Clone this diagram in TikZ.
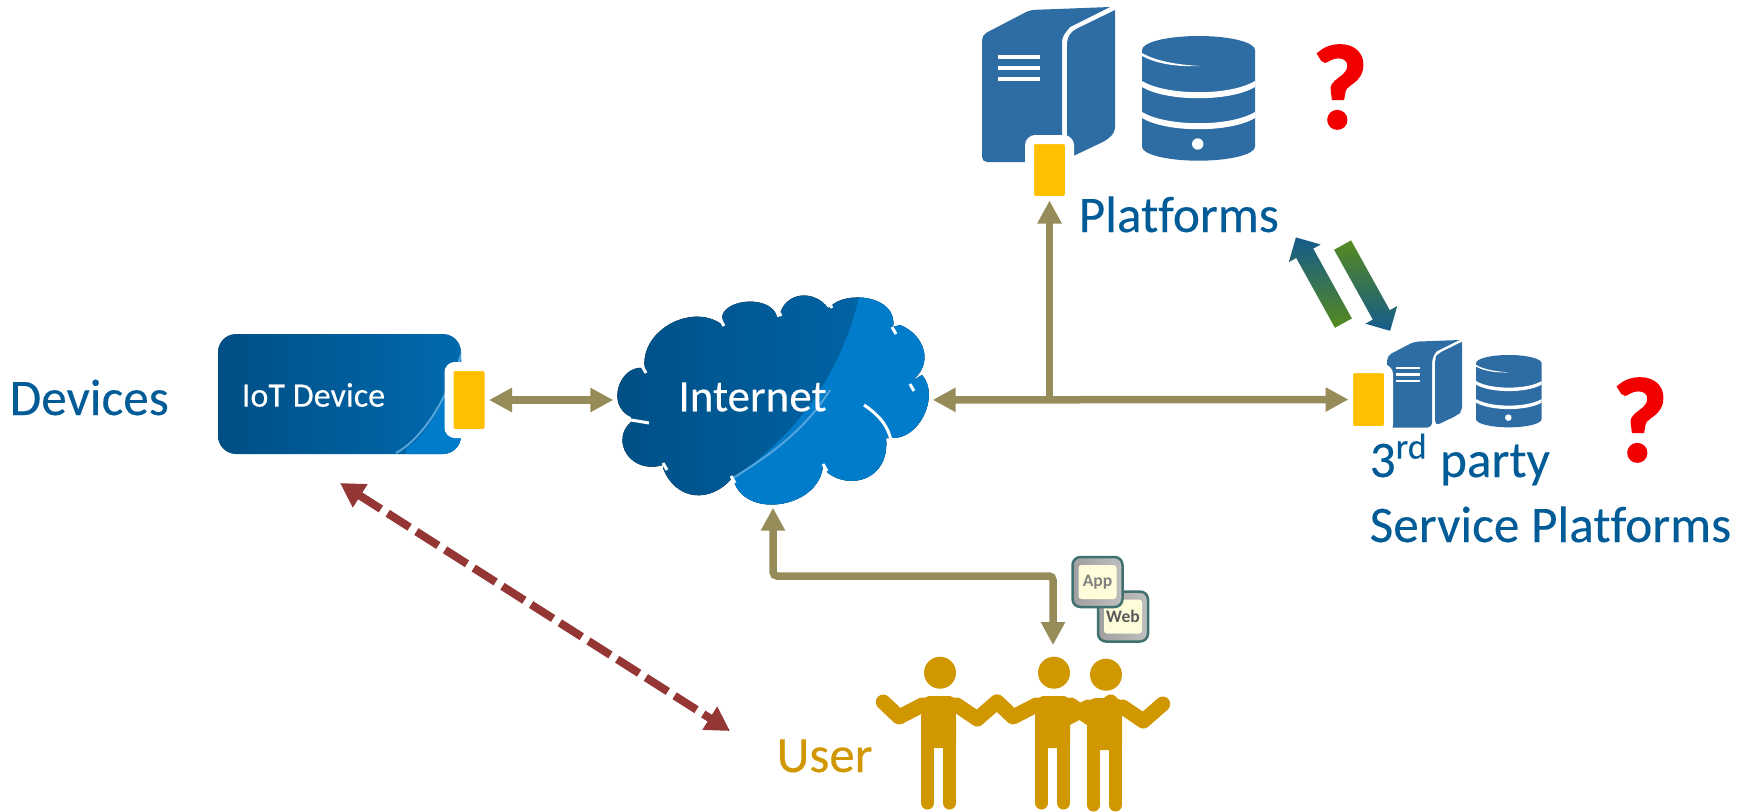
\documentclass[tikz,border=0pt]{standalone}
\usepackage{fontspec}
\setmainfont[Ligatures=NoCommon]{Carlito}
\newfontfamily\headfont[Ligatures=NoCommon,FakeBold=.25]{Carlito}
\newfontfamily\queryfont[BoldFeatures={FakeBold=2}]{Carlito}
\usetikzlibrary{calc,arrows.meta,shapes.arrows}

\definecolor{linkolive}{HTML}{968C5A}
\definecolor{titleblue}{HTML}{005B96}
\definecolor{serverblue}{HTML}{2E6CA4}
\definecolor{portamber}{HTML}{FFC000}
\definecolor{userochre}{HTML}{D09700}
\definecolor{darkred}{HTML}{943634}
\definecolor{deepblue}{HTML}{004E84}
\definecolor{midblue}{HTML}{006AAE}
\definecolor{lightblue}{HTML}{007CCB}
\definecolor{edgeblue}{HTML}{55A5DC}
\definecolor{arrowgreen}{HTML}{568A1E}
\definecolor{arrowblue}{HTML}{155B8C}

\newcommand{\cloudpath}{(6.45,3.70) .. controls (6.38,3.30) and (6.95,3.00) .. (7.25,3.27)
	-- (7.22,3.17) .. controls (7.25,2.98) and (7.72,2.95) .. (7.77,3.17)
	-- (7.79,3.17) .. controls (7.85,2.90) and (8.15,2.90) .. (8.28,3.08)
	-- (8.30,3.07) .. controls (8.45,2.90) and (8.98,2.95) .. (8.93,3.27)
	-- (9.00,3.25) .. controls (9.25,3.35) and (9.35,3.65) .. (9.10,3.82)
	-- (9.22,3.75) .. controls (9.40,3.95) and (9.20,4.40) .. (8.91,4.38)
	-- (8.86,4.38) .. controls (8.90,4.80) and (8.50,4.90) .. (8.28,4.73)
	-- (8.23,4.65) .. controls (8.20,5.10) and (7.40,5.20) .. (7.33,4.77)
	.. controls (7.10,5.05) and (6.75,5.00) .. (6.63,4.68)
	-- (6.63,4.65) .. controls (6.30,4.75) and (6.10,4.40) .. (6.31,4.22)
	-- (6.31,4.17) .. controls (6.05,4.05) and (6.20,3.65) .. (6.43,3.68) -- cycle}

\tikzset{
	pics/server/.style={
		code={
			\fill[serverblue,rounded corners=.5mm] (0,1.55) -- (0,.28) -- (.48,.03) [sharp corners] -- (1.28,0)
				-- (.88,.2) [rounded corners=.5mm] -- (.80,.30) -- (.80,1.55) -- cycle;
			\fill[serverblue,rounded corners=.5mm] (.85,1.52) -- (.85,.32) -- (.90,.24)
				[sharp corners] -- (1.33,.03) [rounded corners=.5mm] -- (1.33,1.25) -- (1.25,1.33) -- cycle;
			\foreach \y in {.50,.61,.72}
			\fill[white] (.16,\y-.02) rectangle (.58,\y+.02);
		}
	},
	pics/database/.style={
		code={
			\fill[serverblue] (0,.14) arc[start angle=180,end angle=360,x radius=.565,y radius=.14]
				-- (1.13,1.107) arc[start angle=0,end angle=180,x radius=.565,y radius=.14] -- cycle;
			\foreach \y in {0,.31}
			\fill[white] (0,.45+\y) .. controls (.25,.60+\y) and (.88,.60+\y) .. (1.13,.45+\y)
				-- (1.13,.51+\y) .. controls (.88,.66+\y) and (.25,.66+\y) .. (0,.51+\y) -- cycle;
			\fill[white] (0,.17) .. controls (.15,.26) and (.40,.29) .. (.58,.30)
				.. controls (.35,.31) and (.15,.28) .. (0,.20) -- cycle;
			\fill[white] (.557,1.08) circle (.057);
		}
	}
}

\begin{document}
\begin{tikzpicture}[
x=1cm,
y=-1cm,
link/.style={
	line width=.075cm,
	draw=linkolive,
	-{Triangle[length=.23cm,width=.23cm]},
	rounded corners=.4mm
},
biglink/.style={
	link,
	{Triangle[length=.23cm,width=.23cm]}-{Triangle[length=.23cm,width=.23cm]}
},
heading/.style={
	anchor=base west,
	inner sep=0pt,
	text=titleblue,
	font=\headfont\fontsize{14.6}{18.5}\selectfont
},
port/.style={
	fill=portamber,
	draw=white,
	line width=.09cm,
	rounded corners=.6mm,
	minimum width=.40cm,
	inner sep=0pt,
	outer sep=0pt
},
query/.style={
	text=red!95!black,
	inner sep=0pt,
	font=\queryfont\fontsize{34}{34}\selectfont\bfseries
},
limb/.style={
	draw=userochre,
	line width=.15cm,
	line cap=round,
	line join=round
},
tile/.style={
	left color=gray!75,
	right color=gray!50,
	draw=teal!50!black!75,
	line width=.25mm,
	rounded corners=.8mm,
	minimum size=.50cm,
	inner sep=0pt
},
tiletext/.style={
	fill=yellow!15,
	rounded corners=.3mm,
	minimum width=.38cm,
	minimum height=.34cm,
	inner sep=0pt,
	font=\fontsize{5}{5}\selectfont\bfseries
},
swap/.style={
	single arrow,
	minimum height=.98cm,
	single arrow head extend=.085cm,
	inner xsep=0pt,
	inner ysep=.09cm,
	outer sep=0pt,
	shading angle=29
}
]
\path[use as bounding box] (0,0) rectangle (17.5,8.11);

% device
\node[left color=deepblue,right color=midblue,rounded corners=1.8mm,minimum width=2.43cm,minimum height=1.2cm,inner sep=0pt,
	path picture={
		\fill[lightblue] (1.225,-.42) .. controls (1.055,.11) and (.805,.46) .. (.565,.59) -- (1.4,.76) -- (1.4,-.64) -- cycle;
		\draw[edgeblue,line width=.2mm] (1.225,-.42) .. controls (1.055,.11) and (.805,.46) .. (.565,.59);
	}] (iotdevice) at (3.395,3.94) {};
\node[text=white,inner sep=0pt,font=\headfont\fontsize{9.7}{11}\selectfont] (iotlabel) at (3.135,3.95) {IoT Device};
\node[port,minimum height=.67cm] (iotport) at (4.69,4.00) {};
\node[heading] (devices) at (.09,4.15) {Devices};

% internet
\fill[left color=deepblue,right color=midblue] \cloudpath;
\begin{scope}
\clip \cloudpath;
\fill[lightblue] (8.62,2.85) .. controls (8.42,3.8) and (7.9,4.4) .. (7.33,4.78) -- (7.3,5.3) -- (9.6,5.3) -- (9.6,2.8) -- cycle;
\draw[edgeblue,line width=.2mm] (8.3,3.9) .. controls (8.05,4.3) and (7.7,4.55) .. (7.33,4.78);
\end{scope}
\foreach \a/\b in {7.20/3.19,7.77/3.09,8.28/3.01,8.92/3.27,9.10/3.84,8.23/4.64,7.31/4.76,6.63/4.63,6.42/3.66} {
	\draw[white,line width=.03cm] (\a,\b) -- ++(.04,.07);
}
\draw[white,line width=.03cm] (8.64,4.05) .. controls (8.82,4.17) and (8.88,4.28) .. (8.91,4.40);
\draw[white,line width=.03cm] (6.31,4.20) -- (6.49,4.23);
\node[minimum width=3.18cm,minimum height=2.14cm,inner sep=0pt] (cloudbox) at (7.73,4.00) {};
\node[text=white,inner sep=0pt,font=\headfont\fontsize{12.8}{14}\selectfont] (internet) at (7.525,3.97) {Internet};

% platforms
\pic[scale=1] at (9.82,.07) {server};
\pic[scale=1] at (11.42,.36) {database};
\node[port,minimum height=.61cm] (platport) at (10.495,1.70) {};
\node[heading] (platforms) at (10.78,2.32) {Platforms};
\node[query] (platquery) at (13.40,.87) {?};

% 3rd party
\pic[scale=.565] at (13.87,3.40) {server};
\pic[scale=.58] at (14.76,3.55) {database};
\node[port,minimum height=.62cm] (thirdport) at (13.685,3.995) {};
\node[heading] (thirdparty) at (13.69,4.77) {3\textsuperscript{rd} party};
\node[heading] (services) at (13.69,5.42) {Service Platforms};
\node[query] (thirdquery) at (16.40,4.20) {?};

% swap arrows
\node[swap,rotate=119,top color=arrowblue,bottom color=arrowgreen] (swapup) at (13.22,2.845) {};
\node[swap,rotate=-61,top color=arrowgreen,bottom color=arrowblue] (swapdown) at (13.64,2.837) {};

% users
\foreach \n/\x/\y in {1/9.40/0,2/10.54/0,3/11.06/.02} {
	\begin{scope}[shift={(\x,\y)}]
	\node[circle,fill=userochre,minimum size=.32cm,inner sep=0pt] (head\n) at (0,6.727) {};
	\fill[userochre,rounded corners=.5mm] (-.19,7.48) -- (-.19,7.15) -- (-.16,6.96) -- (.15,6.96) -- (.16,7.15) -- (.16,7.48) -- cycle;
	\draw[limb,line width=.13cm] (-.125,7.40) -- (-.125,8.03);
	\draw[limb,line width=.13cm] (.095,7.40) -- (.095,8.03);
	\draw[limb] (-.177,7.05) -- (-.41,7.17) -- (-.567,7.02);
	\draw[limb] (.167,7.05) -- (.373,7.19) -- (.567,7.02);
	\end{scope}
}
\node[anchor=base west,inner sep=0pt,text=userochre,font=\headfont\fontsize{14.5}{16}\selectfont] (user) at (7.76,7.72) {User};

% app and web
\foreach \n/\x/\y/\t/\c in {web/11.23/6.165/Web/black!65,app/10.975/5.82/App/black!50} {
	\node[tile] (\n tile) at (\x,\y) {};
	\node[tiletext,text=\c] (\n) at (\x,\y) {\t};
}

% links
\coordinate (junction) at (platport |- cloudbox);
\coordinate (userbend) at (10.53,5.76);
\coordinate (devtip) at (3.40,4.83);
\coordinate (usertip) at (7.30,7.31);
\draw[biglink] (iotport) -- (cloudbox);
\draw[biglink] (cloudbox) -- (thirdport);
\draw[link] (junction) -- (platport);
\draw[biglink,shorten >=.11cm] (cloudbox.south) |- (userbend) -- (head2.north -| userbend);
\draw[draw=darkred,line width=.08cm,dash pattern=on .26cm off .08cm,{Triangle[length=.24cm,width=.26cm]}-{Triangle[length=.24cm,width=.26cm]}] (devtip) -- (usertip);
\end{tikzpicture}
\end{document}
